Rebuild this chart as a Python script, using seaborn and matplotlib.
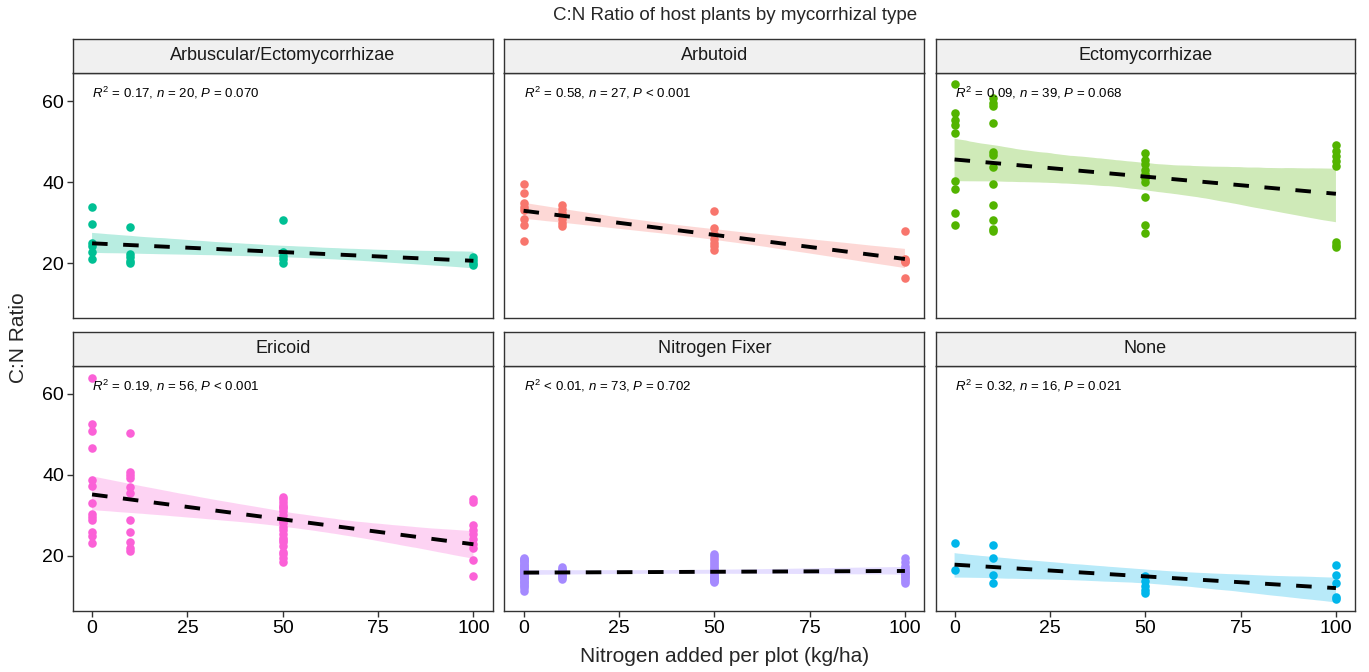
import numpy as np
import pandas as pd
import matplotlib
matplotlib.use("Agg")
import matplotlib.pyplot as plt
import seaborn as sns

# ---- data: C:N ratio of host plants at each nitrogen addition level ----
types = ["Arbuscular/Ectomycorrhizae", "Arbutoid", "Ectomycorrhizae",
         "Ericoid", "Nitrogen Fixer", "None"]
n_levels = [0, 10, 50, 100]

arb_ecto = {
    0: [34.0, 29.7, 25.0, 24.2, 22.8, 21.0],
    10: [29.0, 22.3, 21.5, 20.6, 20.2],
    50: [30.6, 22.8, 21.9, 21.0, 20.2],
    100: [21.6, 20.9, 20.2, 19.6],
}
arbutoid = {
    0: [39.7, 37.4, 34.8, 34.0, 33.2, 31.0, 29.4, 25.5],
    10: [34.5, 33.5, 32.4, 31.0, 30.0, 29.2],
    50: [32.9, 28.7, 27.2, 26.0, 25.0, 24.2, 23.4],
    100: [28.1, 21.2, 20.9, 20.6, 20.3, 16.5],
}
ecto = {
    0: [64.2, 57.0, 55.3, 54.1, 52.2, 40.3, 38.4, 32.4, 29.4],
    10: [60.7, 59.5, 58.8, 54.5, 47.5, 46.7, 43.8, 39.7, 34.3, 30.8, 28.6, 28.1],
    50: [47.2, 45.6, 44.5, 43.0, 42.0, 41.0, 40.1, 36.4, 29.4, 27.5],
    100: [49.1, 47.8, 46.6, 45.2, 44.0, 25.3, 24.5, 24.0],
}
ericoid = {
    0: [63.8, 52.5, 50.8, 46.5, 38.7, 37.2, 33.0, 30.3, 29.6, 28.9, 26.0, 25.0, 23.1],
    10: [50.4, 40.8, 40.0, 39.1, 37.1, 35.4, 28.9, 26.0, 23.5, 22.0, 21.1],
    50: [34.5, 34.0, 33.4, 32.6, 32.0, 31.8, 31.0, 30.0, 29.0, 28.5, 28.0, 27.2,
         26.3, 25.4, 24.5, 24.0, 23.5, 22.5, 21.0, 20.4, 19.6, 18.6],
    100: [34.0, 33.4, 27.6, 26.5, 25.3, 24.2, 23.0, 21.9, 19.0, 15.1],
}
n_fixer = {
    0: [19.6, 19.3, 19.0, 18.7, 18.4, 18.1, 17.8, 17.5, 17.2, 16.9, 16.7, 16.5,
        16.3, 16.1, 15.9, 15.7, 15.5, 15.3, 15.1, 14.9, 14.7, 14.5, 14.2, 13.9,
        13.6, 13.3, 12.9, 12.5, 12.0, 11.4],
    10: [17.3, 16.9, 16.6, 16.3, 16.0, 15.7, 15.4, 15.1, 14.7, 14.3],
    50: [20.6, 20.0, 19.4, 18.9, 18.4, 17.9, 17.5, 17.1, 16.7, 16.3, 16.0, 15.7,
         15.4, 15.1, 14.8, 14.6, 14.3, 14.1, 13.9, 13.7],
    100: [19.6, 18.6, 17.6, 17.0, 16.5, 16.1, 15.8, 15.5, 15.1, 14.7, 14.2, 13.8, 13.3],
}
none_type = {
    0: [23.1, 16.6],
    10: [22.6, 19.6, 15.3, 13.3],
    50: [15.0, 13.8, 12.6, 11.6, 10.8],
    100: [17.8, 15.3, 13.3, 10.0, 9.3],
}
series = [arb_ecto, arbutoid, ecto, ericoid, n_fixer, none_type]

stat_labels = [
    r"$\it{R}^2$ = 0.17, $\it{n}$ = 20, $\it{P}$ = 0.070",
    r"$\it{R}^2$ = 0.58, $\it{n}$ = 27, $\it{P}$ < 0.001",
    r"$\it{R}^2$ = 0.09, $\it{n}$ = 39, $\it{P}$ = 0.068",
    r"$\it{R}^2$ = 0.19, $\it{n}$ = 56, $\it{P}$ < 0.001",
    r"$\it{R}^2$ < 0.01, $\it{n}$ = 73, $\it{P}$ = 0.702",
    r"$\it{R}^2$ = 0.32, $\it{n}$ = 16, $\it{P}$ = 0.021",
]
palette = ["#00C094", "#F8766D", "#53B400", "#FB61D7", "#A58AFF", "#00B6EB"]

rows = []
for t, s in zip(types, series):
    for lvl in n_levels:
        for v in s[lvl]:
            rows.append((t, lvl, v))
df = pd.DataFrame(rows, columns=["type", "N", "CN"])

# ---- styling ----
sns.set_style("white")
plt.rcParams["font.family"] = ["Liberation Sans", "DejaVu Sans"]
plt.rcParams["mathtext.fontset"] = "custom"
plt.rcParams["mathtext.rm"] = "Liberation Sans"
plt.rcParams["mathtext.it"] = "Liberation Sans:italic"

W, H = 1369, 672
fig = plt.figure(figsize=(W / 100, H / 100), dpi=100)

col_left = [73, 504.5, 935.5]
col_w = 419.5
row_top = [73, 365.5]
row_h = 245
strip_h = 34

span = df["CN"].max() - df["CN"].min()
ylim = (df["CN"].min() - 0.05 * span, df["CN"].max() + 0.05 * span)
edge = "#333333"

for i, (t, col, lab) in enumerate(zip(types, palette, stat_labels)):
    r, c = divmod(i, 3)
    x0, y0 = col_left[c], row_top[r]
    ax = fig.add_axes([x0 / W, 1 - (y0 + row_h) / H, col_w / W, row_h / H])
    sub = df[df["type"] == t]
    sns.regplot(data=sub, x="N", y="CN", ax=ax, color=col, ci=95,
                n_boot=2000, seed=3, truncate=True,
                scatter_kws=dict(s=38, alpha=1, linewidths=0),
                line_kws=dict(lw=2.8, ls=(0, (4, 4))))
    ax.lines[-1].set_color("black")
    ax.collections[-1].set_alpha(0.28)
    ax.collections[-1].set_edgecolor("none")

    ax.set_xlim(-5, 105)
    ax.set_ylim(*ylim)
    ax.set_xticks([0, 25, 50, 75, 100])
    ax.set_yticks([20, 40, 60])
    ax.set_xlabel("")
    ax.set_ylabel("")
    for sp in ax.spines.values():
        sp.set_visible(True)
        sp.set_color(edge)
        sp.set_linewidth(1.0)
    ax.tick_params(axis="both", direction="out", length=4, width=1.0,
                   color=edge, labelsize=14, labelcolor="black", pad=2.5)
    if r == 0:
        ax.tick_params(axis="x", bottom=False, labelbottom=False)
    else:
        ax.tick_params(axis="x", bottom=True, labelbottom=True)
    if c == 0:
        ax.tick_params(axis="y", left=True, labelleft=True)
    else:
        ax.tick_params(axis="y", left=False, labelleft=False)

    ax.text(0, 62, lab, fontsize=9.5, ha="left", va="center", color="black")

    # facet strip
    sax = fig.add_axes([x0 / W, 1 - y0 / H, col_w / W, strip_h / H])
    sax.set_facecolor("#F0F0F0")
    sax.set_xticks([])
    sax.set_yticks([])
    for sp in sax.spines.values():
        sp.set_visible(True)
        sp.set_color(edge)
        sp.set_linewidth(1.0)
    sax.text(0.5, 0.5, t, transform=sax.transAxes, ha="center", va="center",
             fontsize=13, color="#1A1A1A")

fig.text(735 / W, 1 - 16 / H, "C:N Ratio of host plants by mycorrhizal type",
         ha="center", va="center", fontsize=13.5)
fig.text(19 / W, 1 - 338 / H, "C:N Ratio", rotation=90, ha="center",
         va="center", fontsize=15)
fig.text(725 / W, 1 - 657 / H, "Nitrogen added per plot (kg/ha)",
         ha="center", va="center", fontsize=15)

fig.savefig("out.png", dpi=100, facecolor="white")
